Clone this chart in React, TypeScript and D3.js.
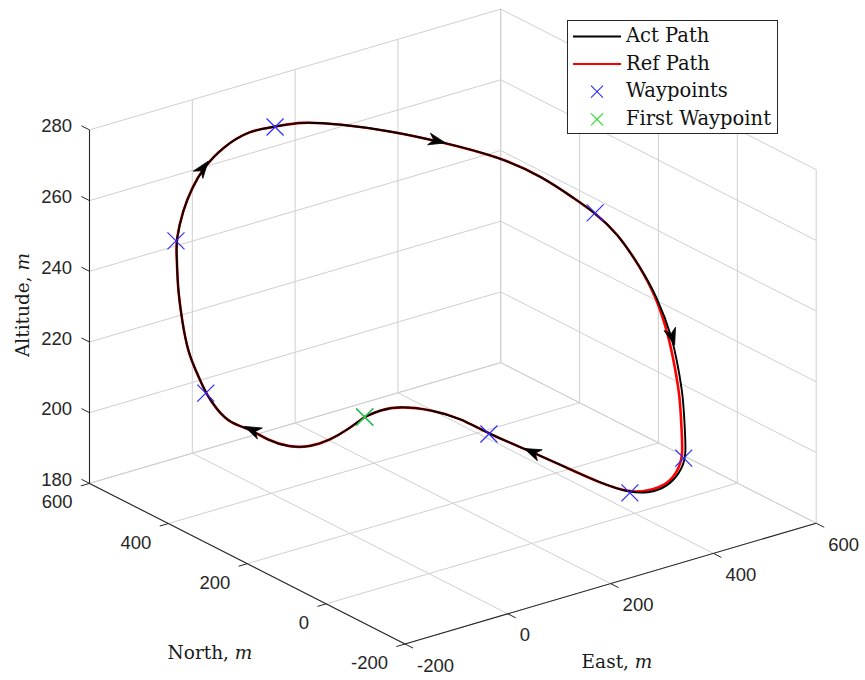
import React from 'react';
import * as d3 from 'd3';

// ---------- data ----------
const eastTicks = [-200, 0, 200, 400, 600];
const northTicks = [-200, 0, 200, 400, 600];
const altTicks = [180, 200, 220, 240, 260, 280];

// Actual path (East, North, Altitude)
const actEast = [129, 93, 65, 32, 6, -13, -24, -52, -53, -52, -53, -54, -50, -44, -48, -54, -39, -26, -15, 0, 23, 36, 80, 123, 177, 228, 301, 348, 377, 394, 424, 447, 464, 471, 474, 468, 441, 412, 391, 358, 331, 315, 294, 281, 268, 241, 244, 230, 199, 165, 129];
const actNorth = [331, 329, 335, 343, 360, 394, 417, 437, 468, 498, 511, 541, 561, 580, 577, 571, 573, 567, 553, 523, 484, 437, 431, 386, 329, 276, 212, 164, 121, 92, 75, 47, 26, -3, -14, -35, -74, -116, -127, -137, -129, -99, -51, 16, 88, 162, 239, 290, 333, 339, 331];
const actAlt = [200, 198, 196, 195, 195, 196, 198, 200, 202, 205, 208, 214, 222, 230, 240, 244, 252, 258, 264, 271, 277, 280, 280, 280, 279, 277, 273, 268, 263, 260, 254, 245, 237, 227, 219, 212, 206, 202, 199, 197, 196, 195, 196, 197, 198, 200, 200, 200, 200, 200, 200];

// Reference path
const refEast = [129, 93, 65, 32, 6, -13, -24, -52, -53, -52, -53, -54, -50, -44, -48, -54, -39, -26, -15, 0, 23, 36, 80, 123, 177, 228, 301, 348, 377, 394, 424, 447, 463, 467, 470, 464, 437, 408, 387, 364, 337, 315, 294, 281, 268, 241, 244, 230, 199, 165, 129];
const refNorth = [331, 329, 335, 343, 360, 394, 417, 437, 468, 498, 511, 541, 561, 580, 577, 571, 573, 567, 553, 523, 484, 437, 431, 386, 329, 276, 212, 164, 121, 92, 75, 47, 27, 0, -11, -32, -71, -113, -124, -129, -121, -99, -51, 16, 88, 162, 239, 290, 333, 339, 331];
const refAlt = actAlt;

// Waypoints (first one is the first waypoint)
const wpEast = [129, -52, -54, 36, 394, 406, 315, 241];
const wpNorth = [331, 498, 571, 437, 92, -117, -99, 162];
const wpAlt = [200, 205, 244, 280, 260, 202, 195, 200];

// indices on the actual path where direction arrows are drawn
const arrowIdx = [6, 18, 25, 33, 44];

// ---------- projection (3D box -> screen) ----------
const sE = d3.scaleLinear().domain([-200, 600]).range([0, 1]);
const sN = d3.scaleLinear().domain([-200, 600]).range([0, 1]);
const sZ = d3.scaleLinear().domain([180, 280]).range([0, 1]);
const O = [405, 644];
const vE = [411.2, -120.8];
const vN = [-315.5, -160.6];
const vZ = [0, -353.5];

function proj(e: number, n: number, z: number): [number, number] {
  const u = sE(e), v = sN(n), w = sZ(z);
  return [O[0] + u * vE[0] + v * vN[0] + w * vZ[0], O[1] + u * vE[1] + v * vN[1] + w * vZ[1]];
}

const GRID = '#cfcfcf';
const AX = '#262626';
const SANS = '"Liberation Sans", Arial, Helvetica, sans-serif';
const SERIF = '"DejaVu Serif", "Liberation Serif", serif';

function Cross({ x, y, r, color, w }: { x: number; y: number; r: number; color: string; w: number }) {
  return (
    <g stroke={color} strokeWidth={w}>
      <line x1={x - r} y1={y - r} x2={x + r} y2={y + r} />
      <line x1={x - r} y1={y + r} x2={x + r} y2={y - r} />
    </g>
  );
}

export default function App() {
  const line = d3.line<[number, number]>().curve(d3.curveBasis);
  const actPts = actEast.map((e, i) => proj(e, actNorth[i], actAlt[i]));
  const refPts = refEast.map((e, i) => proj(e, refNorth[i], refAlt[i]));

  const gridLines: [number, number][][] = [];
  eastTicks.forEach((e) => {
    gridLines.push([proj(e, -200, 180), proj(e, 600, 180)]);
    gridLines.push([proj(e, 600, 180), proj(e, 600, 280)]);
  });
  northTicks.forEach((n) => {
    gridLines.push([proj(-200, n, 180), proj(600, n, 180)]);
    gridLines.push([proj(600, n, 180), proj(600, n, 280)]);
  });
  altTicks.forEach((z) => {
    gridLines.push([proj(-200, 600, z), proj(600, 600, z)]);
    gridLines.push([proj(600, 600, z), proj(600, -200, z)]);
  });

  const axes: [number, number][][] = [
    [proj(-200, 600, 180), proj(-200, 600, 280)],
    [proj(-200, -200, 180), proj(-200, 600, 180)],
    [proj(-200, -200, 180), proj(600, -200, 180)],
  ];

  const nLen = Math.hypot(vN[0], vN[1]);
  const eLen = Math.hypot(vE[0], vE[1]);
  const nDir = [vN[0] / nLen, vN[1] / nLen];
  const eDir = [vE[0] / eLen, vE[1] / eLen];
  const TL = 9;

  const arrows = arrowIdx.map((i) => {
    const p = actPts[i];
    const a = actPts[i - 1];
    const b = actPts[i + 1];
    const dx = b[0] - a[0], dy = b[1] - a[1];
    const L = Math.hypot(dx, dy);
    const ux = dx / L, uy = dy / L;
    const px = -uy, py = ux;
    const tip = [p[0] + ux * 8.5, p[1] + uy * 8.5];
    const bl = [p[0] - ux * 8.5 + px * 6, p[1] - uy * 8.5 + py * 6];
    const br = [p[0] - ux * 8.5 - px * 6, p[1] - uy * 8.5 - py * 6];
    const nt = [p[0] - ux * 3.5, p[1] - uy * 3.5];
    return `M${tip[0]},${tip[1]}L${bl[0]},${bl[1]}L${nt[0]},${nt[1]}L${br[0]},${br[1]}Z`;
  });

  const legendRows = [
    { label: 'Act Path', kind: 'line', color: '#000000' },
    { label: 'Ref Path', kind: 'line', color: '#ff0000' },
    { label: 'Waypoints', kind: 'x', color: '#2b2bff' },
    { label: 'First Waypoint', kind: 'x', color: '#22e022' },
  ];

  return (
    <svg width={865} height={680} style={{ position: 'absolute', left: 0, top: 0, background: '#fff' }}>
      <rect x={0} y={0} width={865} height={680} fill="#fff" />
      {gridLines.map((l, i) => (
        <line key={'g' + i} x1={l[0][0]} y1={l[0][1]} x2={l[1][0]} y2={l[1][1]} stroke={GRID} strokeWidth={1} />
      ))}
      {axes.map((l, i) => (
        <line key={'a' + i} x1={l[0][0]} y1={l[0][1]} x2={l[1][0]} y2={l[1][1]} stroke={AX} strokeWidth={1.1} />
      ))}
      {/* ticks & labels */}
      {altTicks.map((z) => {
        const p = proj(-200, 600, z);
        return (
          <g key={'z' + z}>
            <line x1={p[0]} y1={p[1]} x2={p[0] + nDir[0] * TL} y2={p[1] + nDir[1] * TL} stroke={AX} strokeWidth={1} />
            <text x={p[0] - 17.5} y={p[1] - 4} textAnchor="end" dominantBaseline="central" fontFamily={SANS} fontSize={18.5} fill={AX}>{z}</text>
          </g>
        );
      })}
      {northTicks.map((n) => {
        const p = proj(-200, n, 180);
        return (
          <g key={'n' + n}>
            <line x1={p[0]} y1={p[1]} x2={p[0] - eDir[0] * TL} y2={p[1] - eDir[1] * TL} stroke={AX} strokeWidth={1} />
            <text x={p[0] - 17} y={p[1] + 18.5} textAnchor="end" dominantBaseline="central" fontFamily={SANS} fontSize={18.5} fill={AX}>{n}</text>
          </g>
        );
      })}
      {eastTicks.map((e) => {
        const p = proj(e, -200, 180);
        return (
          <g key={'e' + e}>
            <line x1={p[0]} y1={p[1]} x2={p[0] - nDir[0] * TL} y2={p[1] - nDir[1] * TL} stroke={AX} strokeWidth={1} />
            <text x={p[0] + 12} y={p[1] + 21} textAnchor="start" dominantBaseline="central" fontFamily={SANS} fontSize={18.5} fill={AX}>{e}</text>
          </g>
        );
      })}
      {/* axis titles */}
      <text transform="translate(22,305) rotate(-90)" textAnchor="middle" dominantBaseline="central" fontFamily={SERIF} fontSize={18.5} fill="#1a1a1a">
        Altitude, <tspan fontStyle="italic">m</tspan>
      </text>
      <text x={210} y={652} textAnchor="middle" dominantBaseline="central" fontFamily={SERIF} fontSize={18.5} fill="#1a1a1a">
        North, <tspan fontStyle="italic">m</tspan>
      </text>
      <text x={617} y={661} textAnchor="middle" dominantBaseline="central" fontFamily={SERIF} fontSize={18.5} fill="#1a1a1a">
        East, <tspan fontStyle="italic">m</tspan>
      </text>

      {/* paths */}
      <path d={line(refPts) || ''} fill="none" stroke="#ff0000" strokeWidth={2.6} strokeLinejoin="round" />
      <path d={line(actPts) || ''} fill="none" stroke="#000000" strokeWidth={1.9} strokeLinejoin="round" />
      {arrows.map((d, i) => (
        <path key={'ar' + i} d={d} fill="#000" stroke="#000" strokeWidth={0.8} strokeLinejoin="miter" />
      ))}
      {wpEast.map((e, i) => {
        const p = proj(e, wpNorth[i], wpAlt[i]);
        return <Cross key={'w' + i} x={p[0]} y={p[1]} r={8.5} color="#2b2bff" w={1.2} />;
      })}
      {(() => {
        const p = proj(wpEast[0], wpNorth[0], wpAlt[0]);
        return <Cross x={p[0]} y={p[1]} r={8.5} color="#22e022" w={1.3} />;
      })()}

      {/* legend */}
      <rect x={567.5} y={20.5} width={210} height={113} fill="#fff" stroke={AX} strokeWidth={1} />
      {legendRows.map((r, i) => {
        const cy = 36.5 + i * 27.6;
        return (
          <g key={'lg' + i}>
            {r.kind === 'line' ? (
              <line x1={573} y1={cy} x2={621} y2={cy} stroke={r.color} strokeWidth={2} />
            ) : (
              <Cross x={597} y={cy} r={6} color={r.color} w={1.1} />
            )}
            <text x={626} y={cy + 5.5} fontFamily={SERIF} fontSize={19.5} fill="#111">{r.label}</text>
          </g>
        );
      })}
    </svg>
  );
}
